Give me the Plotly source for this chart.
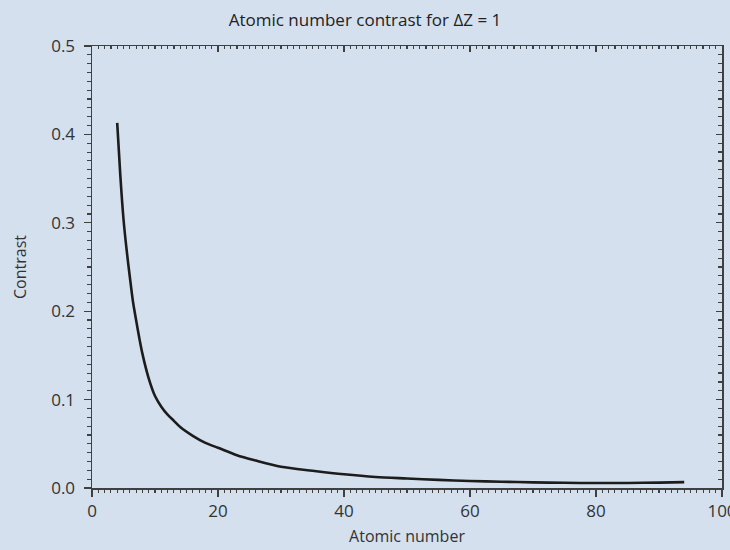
import plotly.graph_objects as go

atomic_number = [4, 4.5, 5, 5.5, 6, 6.5, 7, 7.5, 8, 9, 10, 11, 12, 13, 14, 16, 18, 20,
                 23, 26, 30, 35, 40, 45, 50, 55, 60, 65, 70, 75, 80, 85, 90, 94]
contrast = [0.413, 0.353, 0.304, 0.269, 0.239, 0.211, 0.190, 0.170, 0.152, 0.124, 0.104,
            0.092, 0.083, 0.076, 0.069, 0.059, 0.051, 0.0455, 0.037, 0.031, 0.024, 0.0195,
            0.0155, 0.0125, 0.0108, 0.0092, 0.0080, 0.0071, 0.0064, 0.0059, 0.0056, 0.0057,
            0.0061, 0.0066]
x_ticks = [0, 20, 40, 60, 80, 100]
y_ticks = [0.0, 0.1, 0.2, 0.3, 0.4, 0.5]

BG = "#d4e0ee"
AX = "#404040"
FONT = "Open Sans"

x_range = [x_ticks[0], x_ticks[-1]]
y_range = [y_ticks[0], y_ticks[-1]]
x_step = x_ticks[1] - x_ticks[0]
y_step = y_ticks[1] - y_ticks[0]

fig = go.Figure()
fig.add_trace(go.Scatter(x=atomic_number, y=contrast, mode="lines",
                         line=dict(color="#1c1c1c", width=2.6, shape="spline", smoothing=0.8),
                         showlegend=False, hoverinfo="skip"))
# invisible traces so the helper axes are drawn
for xa, ya in (("x2", "y2"), ("x3", "y3")):
    fig.add_trace(go.Scatter(x=x_range, y=y_range, xaxis=xa, yaxis=ya, mode="markers",
                             marker=dict(opacity=0), showlegend=False, hoverinfo="skip"))

common = dict(showgrid=False, zeroline=False, showline=True, linecolor=AX, linewidth=1.5,
              tickcolor=AX, tickwidth=1.3, automargin=False)
helper = dict(showgrid=False, zeroline=False, showline=False, automargin=False,
              showticklabels=False, tickcolor=AX, tickwidth=1.1)

fig.update_layout(
    width=730, height=550,
    paper_bgcolor=BG, plot_bgcolor=BG,
    margin=dict(l=92, r=8, t=46, b=62),
    font=dict(family=FONT, size=16, color="#333333"),
    title=dict(text="Atomic number contrast for ΔZ = 1", x=0.5, xanchor="center",
               y=1 - 20 / 550, yref="container", yanchor="middle",
               font=dict(size=17, color="#222222")),
    xaxis=dict(range=x_range, tickmode="linear", tick0=x_ticks[0], dtick=x_step,
               ticks="outside", ticklen=7, ticklabeloverflow="allow",
               tickfont=dict(size=17),
               title=dict(text="Atomic number", font=dict(size=16), standoff=10), **common),
    yaxis=dict(range=y_range, tickmode="linear", tick0=y_ticks[0], dtick=y_step,
               tickformat=".1f",
               ticks="outside", ticklen=7, tickfont=dict(size=17), ticklabelstandoff=5,
               title=dict(text="Contrast", font=dict(size=16), standoff=20), **common),
    xaxis2=dict(range=x_range, overlaying="x", side="top", anchor="y",
                tickmode="linear", tick0=x_ticks[0], dtick=x_step,
                showticklabels=False, ticks="inside", ticklen=6,
                minor=dict(tickmode="linear", tick0=0, dtick=1, ticks="inside", ticklen=3,
                           tickcolor=AX, tickwidth=1.2, showgrid=False),
                **common),
    yaxis2=dict(range=y_range, overlaying="y", side="right", anchor="x",
                tickmode="linear", tick0=y_ticks[0], dtick=y_step,
                showticklabels=False, ticks="inside", ticklen=6,
                minor=dict(tickmode="linear", tick0=0, dtick=0.01, ticks="inside", ticklen=4,
                           tickcolor=AX, tickwidth=1.2, showgrid=False),
                **common),
    xaxis3=dict(range=x_range, overlaying="x", side="bottom", anchor="y",
                tickmode="linear", tick0=0, dtick=1, ticks="outside", ticklen=4, **helper),
    yaxis3=dict(range=y_range, overlaying="y", side="left", anchor="x",
                tickmode="linear", tick0=0, dtick=0.01, ticks="outside", ticklen=4, **helper),
)

fig.write_html(
    "out.html",
    config={"displayModeBar": False, "staticPlot": True},
    post_script="document.body.style.margin='0';document.body.style.overflow='hidden';"
                "document.body.style.background='" + BG + "';",
)
